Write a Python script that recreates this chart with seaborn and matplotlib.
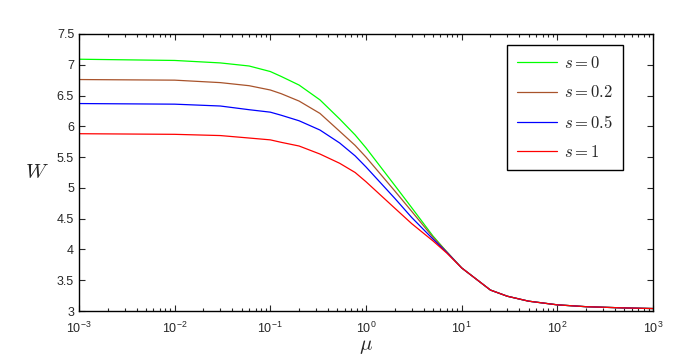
import numpy as np
import pandas as pd
import matplotlib
matplotlib.use("Agg")
import matplotlib.pyplot as plt
from matplotlib.ticker import FuncFormatter, LogLocator, MultipleLocator
import seaborn as sns

# values
mu = [1e-3, 1e-2, 0.03, 0.06, 0.1, 0.13, 0.2, 0.33, 0.53, 0.77, 1, 2, 3, 5, 7, 10,
      20, 30, 50, 100, 200, 500, 1000]
w_s0 = [7.09, 7.07, 7.03, 6.98, 6.89, 6.81, 6.67, 6.43, 6.12, 5.86, 5.65, 5.04, 4.68, 4.22, 3.96, 3.70,
        3.34, 3.24, 3.16, 3.10, 3.07, 3.05, 3.04]
w_s02 = [6.76, 6.75, 6.71, 6.66, 6.59, 6.53, 6.41, 6.21, 5.92, 5.69, 5.50, 4.95, 4.62, 4.20, 3.96, 3.70,
         3.34, 3.24, 3.16, 3.10, 3.07, 3.05, 3.04]
w_s05 = [6.37, 6.36, 6.33, 6.27, 6.23, 6.18, 6.09, 5.94, 5.73, 5.52, 5.34, 4.83, 4.52, 4.17, 3.95, 3.70,
         3.34, 3.24, 3.16, 3.10, 3.07, 3.05, 3.04]
w_s1 = [5.88, 5.87, 5.85, 5.81, 5.78, 5.74, 5.68, 5.55, 5.40, 5.25, 5.10, 4.67, 4.42, 4.14, 3.94, 3.70,
        3.34, 3.24, 3.16, 3.10, 3.07, 3.05, 3.04]

labels = ["$s = 0$", "$s = 0.2$", "$s = 0.5$", "$s = 1$"]
colors = ["#00ff00", "#a8532b", "#0000ff", "#ff0000"]
series = [w_s0, w_s02, w_s05, w_s1]

sns.set_style("ticks")
plt.rcParams["font.family"] = ["Liberation Sans", "DejaVu Sans"]
plt.rcParams["mathtext.fontset"] = "cm"

fig = plt.figure(figsize=(6.85, 3.6), dpi=100)
ax = fig.add_axes([0.1153, 0.1361, 0.8380, 0.7695])
ax.set_xscale("log")

for w, lab, col in zip(series, labels, colors):
    df = pd.DataFrame({"mu": mu, "W": w})
    sns.lineplot(data=df, x="mu", y="W", ax=ax, color=col, label=lab,
                 linewidth=0.9, estimator=None)

ax.set_xlim(1e-3, 1e3)
ax.set_ylim(3, 7.5)
ax.yaxis.set_major_locator(MultipleLocator(0.5))
ax.yaxis.set_major_formatter(FuncFormatter(lambda v, p: f"{v:g}"))
ax.xaxis.set_major_locator(LogLocator(base=10, numticks=10))
ax.xaxis.set_minor_locator(LogLocator(base=10, subs=np.arange(2, 10), numticks=20))
ax.xaxis.set_major_formatter(FuncFormatter(lambda v, p: r"$\mathregular{10^{%d}}$" % round(np.log10(v))))

ax.tick_params(which="both", direction="in", top=True, right=True, labelsize=9, width=0.8)
ax.tick_params(which="major", length=4)
ax.tick_params(which="minor", length=2)
ax.tick_params(axis="x", which="major", pad=7)
for sp in ax.spines.values():
    sp.set_linewidth(1.0)
    sp.set_color("black")

ax.set_xlabel(r"$\mu$", fontsize=15, labelpad=1)
ax.set_ylabel(r"$W$", fontsize=15, rotation=0, labelpad=14, va="center")

leg = ax.legend(loc="upper left", bbox_to_anchor=(0.746, 0.96), fontsize=12,
                frameon=True, fancybox=False, handlelength=2.4, labelspacing=0.8,
                borderpad=0.6, handletextpad=0.4, borderaxespad=0)
leg.get_frame().set_edgecolor("black")
leg.get_frame().set_linewidth(1.0)
leg.get_frame().set_alpha(1)

fig.savefig("out.png", dpi=100)
